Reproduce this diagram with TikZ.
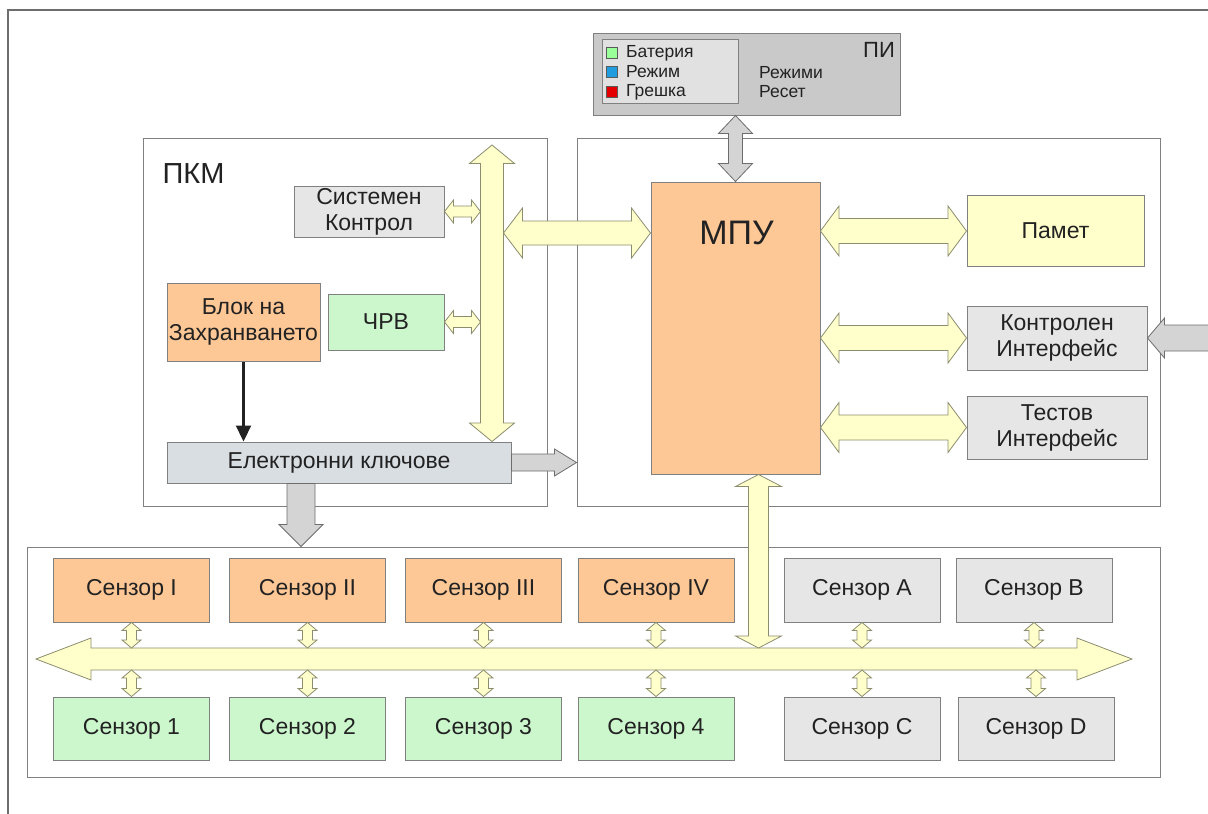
\documentclass[tikz,border=0pt]{standalone}
\usepackage{fontspec}
\setmainfont{Liberation Sans}
\usetikzlibrary{arrows.meta,calc}

\definecolor{orng}{RGB}{253,200,150}
\definecolor{grn}{RGB}{204,247,204}
\definecolor{lgry}{RGB}{230,230,230}
\definecolor{kgry}{RGB}{217,222,227}
\definecolor{ylw}{RGB}{255,255,204}
\definecolor{pgry}{RGB}{201,201,201}
\definecolor{edge}{RGB}{128,128,128}
\definecolor{busedge}{RGB}{140,140,110}
\definecolor{txt}{RGB}{34,34,34}

\tikzset{
	box/.style={draw=edge,line width=1pt,minimum width=156pt,minimum height=64pt,
		inner sep=0pt,text=txt,align=center,font=\fontsize{23}{26}\selectfont},
	frame/.style={draw=edge,line width=1pt,fill=white,inner sep=0pt},
	lbl/.style={text=txt,inner sep=0pt},
	bus/.style={draw=busedge,fill=ylw,line width=0.8pt},
	gbus/.style={draw=edge!85!black,fill=lgry!92!black,line width=0.8pt},
}

% block arrow with a head on both ends: [style]{from}{to}{shaft}{head}{head length}
\newcommand\dblarrow[6][bus]{%
	\path (#2) coordinate (da) (#3) coordinate (db);
	\path ($(da)!#6!(db)$) coordinate (ha) ($(db)!#6!(da)$) coordinate (hb);
	\draw[#1] (da) -- ($(ha)!#5!90:(db)$) -- ($(ha)!#4!90:(db)$)
		-- ($(hb)!#4!-90:(da)$) -- ($(hb)!#5!-90:(da)$) -- (db)
		-- ($(hb)!#5!90:(da)$) -- ($(hb)!#4!90:(da)$)
		-- ($(ha)!#4!-90:(db)$) -- ($(ha)!#5!-90:(db)$) -- cycle;}
% block arrow with one head, at the second point
\newcommand\sglarrow[6][gbus]{%
	\path (#2) coordinate (da) (#3) coordinate (db);
	\path ($(db)!#6!(da)$) coordinate (hb);
	\draw[#1] ($(da)!#4!90:(db)$) -- ($(hb)!#4!-90:(da)$) -- ($(hb)!#5!-90:(da)$)
		-- (db) -- ($(hb)!#5!90:(da)$) -- ($(hb)!#4!90:(da)$)
		-- ($(da)!#4!-90:(db)$) -- cycle;}

\begin{document}
\begin{tikzpicture}[x=1pt,y=-1pt]
	\useasboundingbox (0,0) rectangle (1208,814);
	\fill[white] (0,0) rectangle (1208,814);
	\draw[edge!85!black,line width=1.5pt] (8,830) -- (8,10) -- (1230,10);

	% frames
	\node[frame,minimum width=404pt,minimum height=368pt] (pkm) at (345,322) {};
	\node[frame,minimum width=583pt,minimum height=368pt] (ctl) at (868.5,322) {};
	\node[frame,minimum width=1133pt,minimum height=230pt] (sens) at (593.5,662) {};
	\node[lbl,font=\fontsize{29}{34}\selectfont] (pkmlbl) at (193.5,174) {ПКМ};

	% user interface panel
	\node[box,fill=pgry,minimum width=307pt,minimum height=82pt] (pi) at (746.5,74) {};
	\node[box,fill=lgry!98!black,minimum width=136pt,minimum height=64pt] (lgd) at (670,71) {};
	\node[lbl,font=\fontsize{22}{26}\selectfont] (pilbl) at (879,50) {ПИ};
	\begin{scope}[every node/.style={lbl,anchor=west,font=\fontsize{17.5}{20}\selectfont}]
		\node[draw=edge!70!black,fill=green!40,minimum size=11pt] (sqbat) at (606,53) {};
		\node[draw=edge!70!black,fill=cyan!80!blue!90,minimum size=11pt] (sqmod) at (606,72) {};
		\node[draw=edge!70!black,fill=red!90!black,minimum size=11pt] (sqerr) at (606,92) {};
		\node (bat) at (626,53) {Батерия};
		\node (mod) at (626,72) {Режим};
		\node (err) at (626,92) {Грешка};
		\node (modes) at (759,73) {Режими};
		\node (rst) at (759,92) {Ресет};
	\end{scope}

	% power and control block
	\node[box,fill=lgry,minimum width=150pt,minimum height=51pt] (sysctl) at (369,211.5) {Системен\\Контрол};
	\node[box,fill=orng,minimum width=153pt,minimum height=78pt] (power) at (243.5,322) {Блок на\\Захранването};
	\node[box,fill=grn,minimum width=116pt,minimum height=56pt] (rtc) at (386,322) {ЧРВ};
	\node[box,fill=kgry,minimum width=344pt,minimum height=41pt] (keys) at (339,462.5) {Електронни ключове};

	% processor side
	\node[box,fill=orng,minimum width=169pt,minimum height=292pt] (mpu) at (735.5,328) {};
	\node[lbl,font=\fontsize{34}{40}\selectfont] (mpulbl) at (736.5,233) {МПУ};
	\node[box,fill=ylw,minimum width=177pt,minimum height=71pt] (mem) at (1055.5,231) {Памет};
	\node[box,fill=lgry,minimum width=180pt] (cif) at (1057,338) {Контролен\\Интерфейс};
	\node[box,fill=lgry,minimum width=180pt,minimum height=63pt] (tif) at (1057,427.5) {Тестов\\Интерфейс};

	% sensors
	\foreach \nm/\x/\t/\c in {s1/131.5/I/orng,s2/307.5/II/orng,s3/483.5/III/orng,
			s4/656/IV/orng,sa/862/A/lgry,sb/1034/B/lgry}
		\node[box,fill=\c] (\nm) at (\x,590) {Сензор \t};
	\foreach \nm/\x/\t/\c in {t1/131.5/1/grn,t2/307.5/2/grn,t3/483.5/3/grn,
			t4/656/4/grn,tc/862/C/lgry,td/1036/D/lgry}
		\node[box,fill=\c,minimum height=63pt] (\nm) at (\x,728.5) {Сензор \t};

	% buses
	\coordinate (busL) at (36,659);
	\coordinate (busR) at (1132,659);
	\coordinate (busT) at (0,648);
	\coordinate (busB) at (0,670);
	\dblarrow{busL}{busR}{11pt}{21pt}{55pt}
	\foreach \a/\b in {s1/t1,s2/t2,s3/t3,s4/t4,sa/tc,sb/td} {
		\dblarrow{\a.south}{\a.south |- busT}{5pt}{9.5pt}{8pt}
		\dblarrow{\b.north}{\b.north |- busB}{5pt}{9.5pt}{8pt}
	}

	\coordinate (vbT) at (492,145);
	\coordinate (vbL) at (480.5,0);
	\coordinate (vbR) at (503.5,0);
	\dblarrow{vbT}{vbT |- keys.north}{11.5pt}{22.5pt}{18.5pt}
	\dblarrow{sysctl.east}{sysctl.east -| vbL}{5.5pt}{11.5pt}{9pt}
	\dblarrow{rtc.east}{rtc.east -| vbL}{5.5pt}{11.5pt}{9pt}
	\dblarrow{vbR |- mpulbl}{mpu.west |- mpulbl}{12pt}{25pt}{19pt}

	\dblarrow{mpu.east |- mem.west}{mem.west}{12.5pt}{25pt}{18.5pt}
	\dblarrow{mpu.east |- cif.west}{cif.west}{12.5pt}{25pt}{18.5pt}
	\dblarrow{mpu.east |- tif.west}{tif.west}{12.5pt}{25pt}{18.5pt}
	\dblarrow[gbus]{mpu.north |- pi.south}{mpu.north}{7pt}{17pt}{18pt}

	\coordinate (mbX) at (758.5,0);
	\dblarrow{mbX |- mpu.south}{mbX |- busT}{10pt}{23pt}{12pt}

	% power lines
	\sglarrow{keys.east}{ctl.west |- keys.east}{8.5pt}{13.5pt}{22pt}
	\coordinate (kdX) at (301,0);
	\sglarrow{kdX |- keys.south}{kdX |- sens.north}{14pt}{22pt}{22pt}
	\coordinate (cifR) at (1220,338);
	\sglarrow{cifR}{cif.east}{13pt}{20pt}{17pt}
	\draw[txt,line width=2.2pt,-{Triangle[length=16pt,width=15pt]}] (power.south) -- (power.south |- keys.north);
\end{tikzpicture}
\end{document}
